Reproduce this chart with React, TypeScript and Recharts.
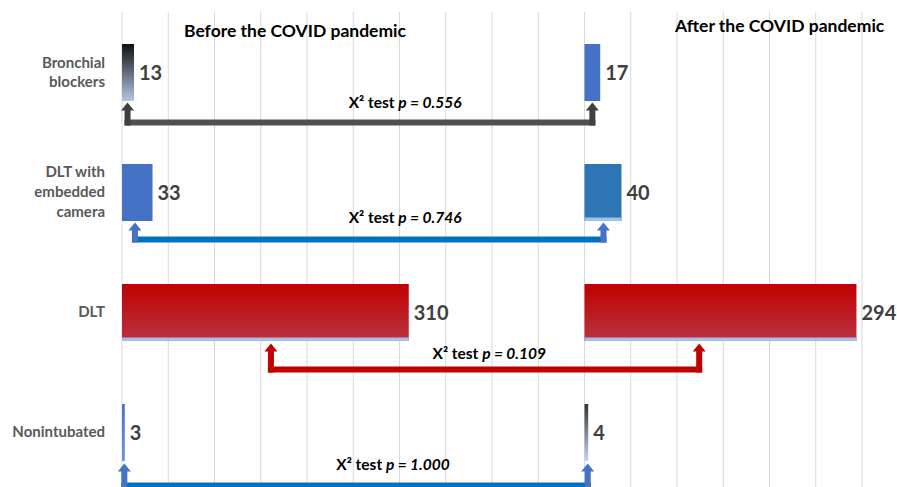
import { BarChart, Bar, XAxis, YAxis, CartesianGrid, LabelList } from 'recharts';

// rows of the chart, top to bottom
const CATEGORIES = ['Bronchial\nblockers', 'DLT with\nembedded\ncamera', 'DLT', 'Nonintubated'];
const BEFORE = [13, 33, 310, 3];
const AFTER = [17, 40, 294, 4];
const P_VALUES = ['0.556', '0.746', '0.109', '1.000'];

// the "after" panel starts at this value on the shared axis
const PANEL_OFFSET = 500;
const TICKS = [0, 50, 100, 150, 200, 250, 300, 350, 400, 450, 500, 550, 600, 650, 700, 750, 800];

const rows = CATEGORIES.map((name, i) => ({
  idx: i,
  name,
  before: BEFORE[i],
  gap: PANEL_OFFSET - BEFORE[i],
  after: AFTER[i],
  p: P_VALUES[i],
}));

const FONT = 'Lato, "Open Sans", sans-serif';

const BEFORE_LOOK = [
  { top: '#111111', bottom: '#b4c7e7' },
  { top: '#4472c4', bottom: '#4472c4' },
  { top: '#c00000', bottom: '#b8333f', strip: '#a9bde6' },
  { top: '#4472c4', bottom: '#6e93d6' },
];
const AFTER_LOOK = [
  { top: '#4472c4', bottom: '#4472c4' },
  { top: '#2e75b6', bottom: '#2e75b6', strip: '#9dc3e6' },
  { top: '#c00000', bottom: '#b8333f', strip: '#a9bde6' },
  { top: '#333333', bottom: '#c5d5ef' },
];

// bracket layout: leftAt in units of the before panel, rightAt in units of the after panel,
// vertical offsets in px from the bar bottom
const BRACKETS = [
  { line: '#505050', arrow: '#404040', leftAt: 6, rightAt: 8.5, tipDy: 1.5, lineDy: 21.5, textAt: 306, textDy: 1.5 },
  { line: '#0070c0', arrow: '#4472c4', leftAt: 14, rightAt: 20.5, tipDy: 1.5, lineDy: 18.5, textAt: 306, textDy: -3.5 },
  { line: '#c00000', arrow: '#c00000', leftAt: 161, rightAt: 124, tipDy: 2.5, lineDy: 28.5, textAt: 397, textDy: 12.5 },
  { line: '#0070c0', arrow: '#4472c4', leftAt: 2.5, rightAt: 3.5, tipDy: 2.5, lineDy: 24.5, textAt: 293, textDy: 3.5 },
];

function shaded(props: any, look: any, id: string) {
  const { x, y, width, height } = props;
  if (!width || width <= 0) return null;
  return (
    <g>
      <defs>
        <linearGradient id={id} x1="0" y1="0" x2="0" y2="1">
          <stop offset="0%" stopColor={look.top} />
          <stop offset="100%" stopColor={look.bottom} />
        </linearGradient>
      </defs>
      <rect x={x} y={y} width={width} height={height} fill={`url(#${id})`} />
      {look.strip && <rect x={x} y={y + height - 3.5} width={width} height={3.5} fill={look.strip} />}
    </g>
  );
}

function BeforeShape(props: any) {
  const i = props.payload.idx;
  return shaded(props, BEFORE_LOOK[i], `before-${i}`);
}

function Arrow({ cx, tip, base, color }: any) {
  const headW = 13;
  const headH = 8;
  return (
    <g>
      <rect x={cx - 3} y={tip + headH - 0.5} width={6} height={base - tip - headH + 3.5} fill={color} />
      <polygon points={`${cx - headW / 2},${tip + headH} ${cx + headW / 2},${tip + headH} ${cx},${tip}`} fill={color} />
    </g>
  );
}

function AfterShape(props: any) {
  const { x, y, width, height, payload } = props;
  const i = payload.idx;
  const b = BRACKETS[i];
  // recover the axis scale from this bar
  const ppu = width / payload.after;
  const x0 = x - PANEL_OFFSET * ppu;
  const lx = x0 + b.leftAt * ppu;
  const rx = x0 + (PANEL_OFFSET + b.rightAt) * ppu;
  const yb = y + height;
  const tip = yb + b.tipDy;
  const hy = yb + b.lineDy;
  const tx = x0 + b.textAt * ppu;
  return (
    <g>
      {shaded(props, AFTER_LOOK[i], `after-${i}`)}
      <rect x={lx - 3} y={hy - 3} width={rx - lx + 6} height={6} fill={b.line} />
      <Arrow cx={lx} tip={tip} base={hy} color={b.arrow} />
      <Arrow cx={rx} tip={tip} base={hy} color={b.arrow} />
      <text x={tx} y={yb + b.textDy} dy="0.35em" textAnchor="middle" fontFamily={FONT} fontWeight={700} fontSize={15.5} fill="#000">
        <tspan>X² test </tspan>
        <tspan fontStyle="italic">p = {payload.p}</tspan>
      </text>
    </g>
  );
}

function CategoryTick(props: any) {
  const { x, y, payload } = props;
  const lines = String(payload.value).split('\n');
  const lh = lines.length > 2 ? 20 : 19;
  const start = y - ((lines.length - 1) * lh) / 2;
  return (
    <text x={x} y={start} textAnchor="end" fill="#595959" fontFamily={FONT} fontWeight={700} fontSize={15}>
      {lines.map((l, k) => (
        <tspan key={k} x={x} y={start + k * lh} dy="0.35em">{l}</tspan>
      ))}
    </text>
  );
}

const titleStyle: any = {
  position: 'absolute',
  fontFamily: FONT,
  fontWeight: 700,
  fontSize: 17.5,
  color: '#000',
  lineHeight: '20px',
  whiteSpace: 'nowrap',
};

export default function App() {
  return (
    <div style={{ position: 'absolute', left: 0, top: 0, width: 897, height: 487, overflow: 'hidden', background: '#fff' }}>
      <BarChart
        width={897}
        height={492}
        data={rows}
        layout="vertical"
        margin={{ top: 12, right: 35, bottom: 0, left: 0 }}
        barSize={57}
      >
        <CartesianGrid horizontal={false} stroke="#d9d9d9" />
        <XAxis
          type="number"
          domain={[0, 800]}
          ticks={TICKS}
          interval={0}
          tick={{ fill: 'transparent', fontSize: 1 }}
          axisLine={false}
          tickLine={false}
          height={0}
        />
        <YAxis type="category" dataKey="name" width={122} axisLine={false} tickLine={false} tickMargin={11} tick={<CategoryTick />} />
        <Bar dataKey="before" stackId="a" shape={<BeforeShape />} isAnimationActive={false}>
          <LabelList dataKey="before" position="right" offset={5} fill="#404040" fontSize={20} fontWeight={700} fontFamily={FONT} />
        </Bar>
        <Bar dataKey="gap" stackId="a" fill="transparent" isAnimationActive={false} />
        <Bar dataKey="after" stackId="a" shape={<AfterShape />} isAnimationActive={false}>
          <LabelList dataKey="after" position="right" offset={5} fill="#404040" fontSize={20} fontWeight={700} fontFamily={FONT} />
        </Bar>
      </BarChart>
      <div style={{ ...titleStyle, left: 184, top: 21 }}>Before the COVID pandemic</div>
      <div style={{ ...titleStyle, left: 675, top: 16 }}>After the COVID pandemic</div>
    </div>
  );
}
